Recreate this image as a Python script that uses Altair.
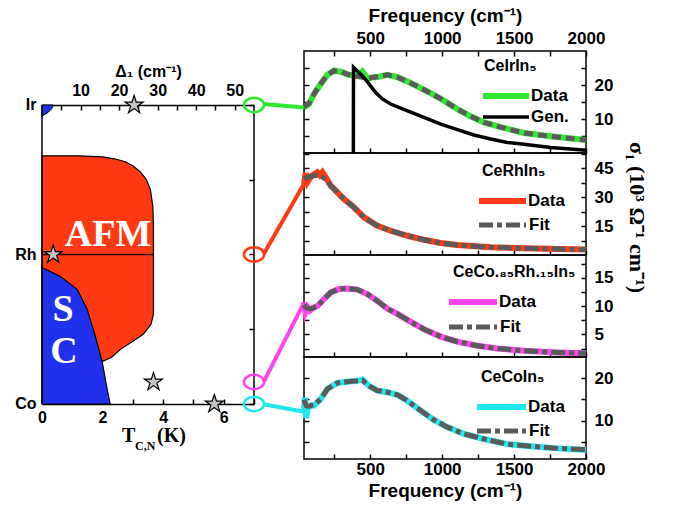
import altair as alt
import pandas as pd

# ---------------- data ----------------
# Phase diagram: composition axis (Co = 0, Rh = 1, Ir = 2), temperature T in K
afm_frac = [1.66, 1.653, 1.64, 1.62, 1.593, 1.553, 1.5, 1.433, 1.32, 1.2, 0.6, 0.533, 0.467, 0.42, 0.367, 0.313, 0.287]
afm_T = [1.2, 2.0, 2.4, 2.75, 3.0, 3.25, 3.45, 3.58, 3.66, 3.68, 3.68, 3.6, 3.35, 3.0, 2.6, 2.3, 2.02]
sc_frac = [0.913, 0.853, 0.767, 0.633, 0.453, 0.28, 0.1, 0.0]
sc_T = [0.0, 0.61, 1.16, 1.49, 1.76, 1.99, 2.15, 2.25]
ir_sc_frac = [2.0, 1.975, 1.95, 1.925]
ir_sc_T = [0.37, 0.32, 0.2, 0.0]
rh_line_T = [0.0, 3.68]
star_T = [0.37, 3.68, 5.69]
star_frac = [1.0, 0.147, 0.0]
star_delta = [23.9]
star_delta_frac = [2.0]
marker_T = [7, 7, 7, 7]
marker_frac = [2.0, 1.0, 0.147, 0.0]
frame_T = [0, 7]
frame_frac = [0.0, 2.0]

compounds = ["CeIrIn₅", "CeRhIn₅", "CeCo.₈₅Rh.₁₅In₅", "CeCoIn₅"]
colors = ["#2fe82f", "#ff3a14", "#ff44ee", "#22e6ee"]

# Optical conductivity sigma_1 (10^3 Ohm^-1 cm^-1) vs frequency (cm^-1)
ir_f = [40, 75, 110, 156, 203, 248, 295, 353, 411, 446, 480, 550, 620, 689, 759, 828, 920, 1013, 1106, 1198, 1291, 1407, 1569, 1754, 2000]
ir_data = [13.4, 14.4, 17.4, 20.3, 23.0, 24.2, 23.9, 23.0, 22.7, 24.0, 22.0, 22.4, 23.0, 22.3, 21.0, 19.6, 17.6, 15.4, 12.9, 10.8, 9.0, 7.6, 5.9, 4.9, 3.8]
ir_fit = [13.6, 14.6, 17.4, 20.3, 23.0, 24.2, 23.9, 23.0, 22.5, 22.3, 22.0, 22.4, 23.0, 22.3, 21.0, 19.6, 17.6, 15.4, 12.9, 10.8, 9.0, 7.6, 5.9, 4.9, 3.8]
gen_f = [383, 384, 434, 480, 538, 585, 642, 759, 874, 990, 1106, 1221, 1337, 1453, 1569, 1754, 2000]
gen_v = [0.0, 25.2, 23.2, 21.0, 17.8, 15.9, 14.4, 12.4, 10.5, 8.5, 6.9, 5.3, 4.1, 3.1, 2.6, 1.6, 0.8]

rh_f = [40, 52, 64, 86, 110, 133, 150, 168, 191, 226, 272, 318, 387, 457, 550, 642, 759, 874, 990, 1106, 1337, 1569, 2000]
rh_data = [37.0, 42.5, 38.0, 40.5, 42.0, 43.0, 41.5, 43.0, 40.4, 36.0, 32.6, 29.1, 24.8, 19.6, 15.2, 12.6, 10.0, 7.9, 6.2, 5.2, 4.0, 3.5, 2.8]
rh_fit = [39.5, 40.0, 40.3, 40.8, 41.2, 41.3, 41.0, 40.5, 39.3, 36.0, 32.6, 29.1, 24.8, 19.6, 15.2, 12.6, 10.0, 7.9, 6.2, 5.2, 4.0, 3.5, 2.8]

corh_f = [40, 50, 63, 80, 98, 133, 179, 226, 283, 342, 411, 480, 550, 620, 689, 782, 874, 990, 1106, 1245, 1384, 1569, 1801, 2000]
corh_data = [10.6, 9.0, 9.8, 9.2, 9.6, 10.0, 11.2, 12.4, 13.0, 13.1, 12.9, 12.1, 10.9, 9.5, 8.6, 7.2, 5.9, 4.6, 3.7, 3.0, 2.5, 2.1, 1.8, 1.65]
corh_fit = [10.2, 9.8, 9.6, 9.5, 9.6, 10.0, 11.2, 12.4, 13.0, 13.1, 12.9, 12.1, 10.9, 9.5, 8.6, 7.2, 5.9, 4.6, 3.7, 3.0, 2.5, 2.1, 1.8, 1.65]

co_f = [40, 46, 55, 65, 75, 90, 110, 156, 203, 272, 342, 411, 446, 492, 550, 620, 689, 759, 851, 943, 1036, 1152, 1291, 1453, 1615, 1801, 2000]
co_data = [12.1, 15.4, 10.6, 13.0, 13.2, 13.6, 13.6, 15.1, 17.5, 18.9, 19.2, 19.4, 19.7, 18.2, 17.1, 16.7, 16.1, 14.7, 12.4, 10.2, 8.5, 6.9, 5.7, 4.5, 4.0, 3.5, 3.1]
co_fit = [15.0, 14.3, 13.6, 13.4, 13.4, 13.6, 13.8, 15.1, 17.5, 18.9, 19.2, 19.4, 19.5, 18.2, 17.1, 16.7, 16.1, 14.7, 12.4, 10.2, 8.5, 6.9, 5.7, 4.5, 4.0, 3.5, 3.2]

# connector lines: start (at the phase-diagram marker) in each panel's units
conn_start_f = -240
conn_start_v = [14.4, 0.5, -3.4, 13.9]

freq_ticks = [250, 500, 750, 1000, 1250, 1500, 1750, 2000]

# ---------------- styling helpers ----------------
SANS = "Liberation Sans"
SERIF = "Liberation Serif"
GRAY = "#5a5a5a"
AFM_RED = "#ff3a12"
SC_BLUE = "#1f30ef"
INWARD = alt.ExprRef(expr="-5")
STAR = "M0,-1L0.2245,-0.309L0.951,-0.309L0.363,0.118L0.588,0.809L0,0.382L-0.588,0.809L-0.363,0.118L-0.951,-0.309L-0.2245,-0.309Z"
ELLIPSE = "M-1,0A1,0.72,0,1,1,1,0A1,0.72,0,1,1,-1,0Z"
one = pd.DataFrame({"a": [0]})


def txt(text, x, y, size, font=SANS, color="black", align="left", baseline="middle"):
    return alt.Chart(one).mark_text(
        text=text, font=font, fontSize=size, fontWeight="bold", color=color,
        align=align, baseline=baseline
    ).encode(x=alt.value(x), y=alt.value(y))


def seg(x1, x2, y, color, width, dash=None):
    kw = dict(color=color, strokeWidth=width)
    if dash:
        kw["strokeDash"] = dash
    return alt.Chart(one).mark_rule(**kw).encode(
        x=alt.value(x1), x2=alt.value(x2), y=alt.value(y))


# ---------------- phase diagram ----------------
T_SC = alt.Scale(domain=[0, 7], nice=False, zero=False)
FR_SC = alt.Scale(domain=[-0.368, 2.361], nice=False, zero=False)
D_SC = alt.Scale(domain=[0, 55], nice=False, zero=False)

afm = alt.Chart(pd.DataFrame({"frac": afm_frac, "T": afm_T})).mark_area(
    orient="horizontal", color=AFM_RED, stroke="black", strokeWidth=1.2, opacity=1
).encode(
    x=alt.X("T:Q", scale=T_SC, axis=alt.Axis(
        orient="bottom", offset=-55, values=list(range(8)), format="d",
        labelExpr="datum.value % 2 == 0 && datum.value < 7 ? datum.label : ''",
        tickSize=INWARD, labelPadding=10, labelFlush=False, title=None,
        domain=True, domainColor="black", domainWidth=1.5)),
    y=alt.Y("frac:Q", scale=FR_SC, axis=alt.Axis(
        orient="left", values=[0, 1, 2], ticks=False, labelPadding=6,
        labelExpr="datum.value == 2 ? 'Ir' : datum.value == 1 ? 'Rh' : 'Co'",
        labelFontSize=16, title=None)),
)

sc = alt.Chart(pd.DataFrame({"frac": sc_frac, "T": sc_T})).mark_area(
    orient="horizontal", color=SC_BLUE, stroke="black", strokeWidth=1.2, opacity=1
).encode(x=alt.X("T:Q", scale=T_SC, axis=None), y=alt.Y("frac:Q", scale=FR_SC, axis=None))

ir_sc = alt.Chart(pd.DataFrame({"frac": ir_sc_frac, "T": ir_sc_T})).mark_area(
    orient="horizontal", color=SC_BLUE, stroke="black", strokeWidth=1, opacity=1
).encode(x=alt.X("T:Q", scale=T_SC, axis=None), y=alt.Y("frac:Q", scale=FR_SC, axis=None))

rh_rule = alt.Chart(pd.DataFrame({"T": [rh_line_T[0]], "T2": [rh_line_T[1]], "frac": [1.0]})).mark_rule(
    color="#300000", strokeWidth=1.5
).encode(x=alt.X("T:Q", scale=T_SC, axis=None), x2="T2:Q", y=alt.Y("frac:Q", scale=FR_SC, axis=None))

frame = alt.Chart(pd.DataFrame({"T": frame_T, "f0": [frame_frac[0]] * 2, "f1": [frame_frac[1]] * 2})).mark_rule(
    color="black", strokeWidth=1.5
).encode(x=alt.X("T:Q", scale=T_SC, axis=None), y=alt.Y("f0:Q", scale=FR_SC, axis=None), y2="f1:Q")

stars = alt.Chart(pd.DataFrame({"T": star_T, "frac": star_frac})).mark_point(
    shape=STAR, size=360, filled=True, fill="#c4c4c4", stroke="black", strokeWidth=1.2, opacity=1
).encode(x=alt.X("T:Q", scale=T_SC, axis=None), y=alt.Y("frac:Q", scale=FR_SC, axis=None))

delta_star = alt.Chart(pd.DataFrame({"d": star_delta, "frac": star_delta_frac})).mark_point(
    shape=STAR, size=360, filled=True, fill="#c4c4c4", stroke="black", strokeWidth=1.2, opacity=1
).encode(
    x=alt.X("d:Q", scale=D_SC, axis=alt.Axis(
        orient="top", offset=-54, values=list(range(5, 55, 5)), format="d",
        labelExpr="datum.value % 10 == 0 ? datum.label : ''",
        tickSize=INWARD, labelPadding=12, labelFlush=False,
        title="Δ₁ (cm⁻¹)", titleFontSize=16, titlePadding=3,
        domain=True, domainColor="black", domainWidth=1.5)),
    y=alt.Y("frac:Q", scale=FR_SC, axis=None),
)

markers = alt.Chart(pd.DataFrame({"T": marker_T, "frac": marker_frac, "name": compounds})).mark_point(
    shape=ELLIPSE, size=400, filled=False, strokeWidth=2.5, opacity=1
).encode(
    x=alt.X("T:Q", scale=T_SC, axis=None),
    y=alt.Y("frac:Q", scale=FR_SC, axis=alt.Axis(
        orient="right", values=[0, 0.5, 1, 1.5, 2], labels=False, tickSize=INWARD, title=None)),
    color=alt.Color("name:N", scale=alt.Scale(domain=compounds, range=colors), legend=None),
)

phase = alt.layer(
    afm, sc, ir_sc, rh_rule, frame, stars, delta_star, markers,
    txt("AFM", 66, 184, 38, SERIF, "white", "center"),
    txt("S", 21, 259, 38, SERIF, "white", "center"),
    txt("C", 22, 301, 38, SERIF, "white", "center"),
    txt("T", 80, 385, 20, SERIF),
    txt("C,N", 93, 395, 12, SERIF),
    txt("(K)", 115, 385, 20, SERIF),
).resolve_scale(x="independent").resolve_axis(x="independent", y="independent").properties(
    width=212, height=408, view=alt.ViewBackground(stroke="transparent"))


# ---------------- spectra panels ----------------
def panel(k, f, data, fit, ydom, yticks, lab_step, lg, second, gen=None, fit_dash=(14, 4, 5, 4)):
    fx = alt.Scale(domain=[40, 2000], nice=False, zero=False)
    fy = alt.Scale(domain=ydom, nice=False, zero=False)
    color = colors[k]

    bottom_kw = dict(orient="bottom", values=freq_ticks, format="d", tickSize=INWARD,
                     labelExpr="datum.value % 500 == 0 ? datum.label : ''",
                     labelFlush=False, labelFontSize=17)
    if k == 3:
        bottom_kw.update(labelPadding=7, title="Frequency (cm⁻¹)", titleFontSize=19, titlePadding=4)
    else:
        bottom_kw.update(labels=False, title=None)
    right_kw = dict(orient="right", values=yticks, tickSize=INWARD, labelPadding=13,
                    labelExpr=f"datum.value % {lab_step} == 0 ? datum.label : ''",
                    labelFontSize=17, labelFlush=False)
    if k == 1:
        right_kw.update(title="σ₁ (10³ Ω⁻¹ cm⁻¹)", titleFont=SERIF, titleFontSize=22,
                        titleAngle=90, titleX=50, titleY=64, titleAlign="center",
                        titleBaseline="middle")
    else:
        right_kw.update(title=None)

    if k == 0:
        top_axis = alt.Axis(orient="top", values=freq_ticks, format="d", tickSize=INWARD,
                            labelExpr="datum.value % 500 == 0 ? datum.label : ''",
                            labelFlush=False, labelFontSize=17, labelPadding=9,
                            title="Frequency (cm⁻¹)", titleFontSize=19, titlePadding=4)
    else:
        top_axis = None

    conn = alt.Chart(pd.DataFrame({"f": [conn_start_f, f[0]], "v": [conn_start_v[k], data[0]]})).mark_line(
        color=color, strokeWidth=4
    ).encode(x=alt.X("f:Q", scale=fx, axis=None), y=alt.Y("v:Q", scale=fy, axis=None))

    data_line = alt.Chart(pd.DataFrame({"f": f, "v": data})).mark_line(
        color=color, strokeWidth=6
    ).encode(x=alt.X("f:Q", scale=fx, axis=alt.Axis(**bottom_kw)),
             y=alt.Y("v:Q", scale=fy, axis=alt.Axis(**right_kw)))

    fit_line = alt.Chart(pd.DataFrame({"f": f, "v": fit})).mark_line(
        color=GRAY, strokeWidth=5, strokeDash=list(fit_dash)
    ).encode(x=alt.X("f:Q", scale=fx, axis=top_axis),
             y=alt.Y("v:Q", scale=fy, axis=alt.Axis(orient="left", values=yticks, labels=False,
                                                    tickSize=INWARD, title=None)))
    layers = [conn, data_line, fit_line]
    if gen is not None:
        layers.append(alt.Chart(pd.DataFrame({"f": gen[0], "v": gen[1]})).mark_line(
            color="black", strokeWidth=3.5
        ).encode(x=alt.X("f:Q", scale=fx, axis=None), y=alt.Y("v:Q", scale=fy, axis=None)))

    tx, ty, lx1, lx2, y1, y2, tx2 = lg
    layers += [
        txt(compounds[k], tx, ty, 16),
        seg(lx1, lx2, y1, color, 6),
        txt("Data", tx2, y1, 17),
    ]
    if second == "Gen.":
        layers += [seg(lx1, lx2, y2, "black", 3.5), txt("Gen.", tx2, y2, 17)]
    else:
        layers += [seg(lx1, lx2, y2, GRAY, 5, [14, 4, 5, 4]), txt("Fit", tx2 + 1, y2, 17)]

    return alt.layer(*layers).resolve_axis(x="independent", y="independent").properties(
        width=282, height=102)


p1 = panel(0, ir_f, ir_data, ir_fit, [0, 30], [5, 10, 15, 20, 25], 10,
           (180, 15, 179, 225, 45, 66, 227), "Gen.", gen=(gen_f, gen_v), fit_dash=(9, 5))
p2 = panel(1, rh_f, rh_data, rh_fit, [0, 53], [7.5, 15, 22.5, 30, 37.5, 45, 52.5], 15,
           (178, 18, 175, 222, 48, 72, 224), "Fit")
p3 = panel(2, corh_f, corh_data, corh_fit, [1, 19], [2.5, 5, 7.5, 10, 12.5, 15, 17.5], 5,
           (149, 17, 145, 193, 47, 72, 195), "Fit")
p4 = panel(3, co_f, co_data, co_fit, [1, 25], [5, 10, 15, 20], 10,
           (177, 20, 173, 222, 50, 74, 224), "Fit")

right = alt.vconcat(p1, p2, p3, p4, spacing=0, bounds="flush")

chart = alt.hconcat(phase, right, spacing=50, bounds="flush").properties(
    padding={"left": 13, "top": 5, "right": 5, "bottom": 5}
).configure_view(stroke="black", strokeWidth=1.5).configure_axis(
    labelFont=SANS, labelFontWeight="bold", labelFontSize=16, labelColor="black",
    titleFont=SANS, titleFontWeight="bold", titleFontSize=18, titleColor="black",
    tickColor="black", tickWidth=1.5, domain=False, grid=False
)

chart.save("out.html", embed_options={"renderer": "svg", "actions": False})
